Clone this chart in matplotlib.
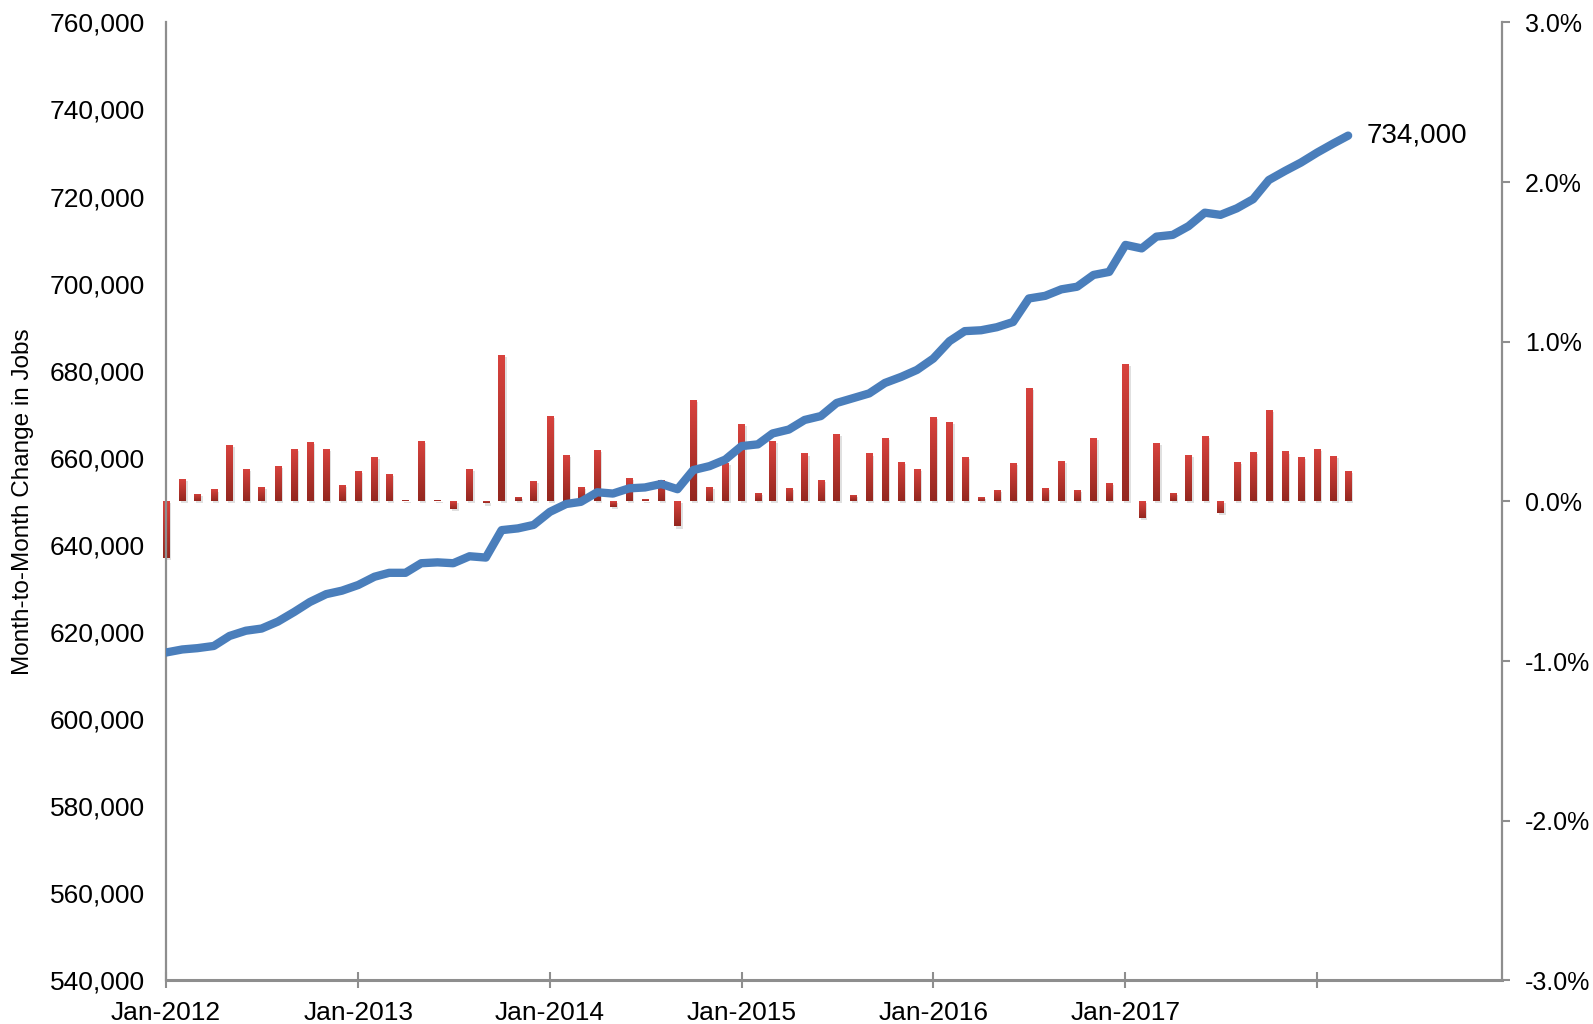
import numpy as np
import pandas as pd
import matplotlib
matplotlib.use("Agg")
import matplotlib.pyplot as plt
import matplotlib.dates as mdates
from matplotlib.ticker import FixedLocator, FixedFormatter, MultipleLocator, FuncFormatter
from matplotlib.colors import LinearSegmentedColormap
from matplotlib.transforms import ScaledTranslation

# ---------------- data ----------------
months = pd.date_range("2012-01-01", periods=75, freq="MS")

jobs = [
    615300, 616000, 616300, 616800, 619100, 620300, 620800, 622400, 624600, 626900, 628700, 629500,
    630800, 632700, 633600, 633600, 635800, 636000, 635800, 637400, 637100, 643400, 643800, 644600,
    647600, 649400, 649900, 652100, 651800, 653000, 653200, 654000, 652800, 657200, 658100, 659600,
    662700, 663100, 665600, 666500, 668700, 669600, 672600, 673700, 674800, 677200, 678600, 680200,
    682800, 686800, 689100, 689300, 690000, 691200, 696600, 697200, 698700, 699300, 702000, 702700,
    708900, 708100, 710800, 711200, 713200, 716300, 715800, 717300, 719400, 723800, 725900, 727800,
    730100, 732200, 734000,
]

pct_change = [
    -0.355, 0.140, 0.048, 0.075, 0.355, 0.205, 0.092, 0.220, 0.330, 0.370, 0.330, 0.105,
    0.190, 0.280, 0.170, 0.010, 0.376, 0.010, -0.050, 0.205, -0.013, 0.920, 0.027, 0.130,
    0.537, 0.290, 0.092, 0.320, -0.033, 0.148, 0.012, 0.132, -0.157, 0.637, 0.092, 0.238,
    0.483, 0.055, 0.378, 0.084, 0.300, 0.135, 0.420, 0.042, 0.300, 0.400, 0.248, 0.206,
    0.528, 0.498, 0.277, 0.025, 0.069, 0.242, 0.713, 0.084, 0.256, 0.069, 0.400, 0.113,
    0.858, -0.103, 0.364, 0.055, 0.292, 0.408, -0.071, 0.248, 0.307, 0.572, 0.313, 0.277,
    0.328, 0.284, 0.191,
]

tick_dates = pd.to_datetime(["2012-01-01", "2013-01-01", "2014-01-01", "2015-01-01",
                             "2016-01-01", "2017-01-01", "2018-01-01"])
tick_labels = ["Jan-2012", "Jan-2013", "Jan-2014", "Jan-2015", "Jan-2016", "Jan-2017", ""]

end_label = "734,000"
ylabel_text = "Month-to-Month Change in Jobs"

# ---------------- style ----------------
plt.rcParams["font.family"] = ["Liberation Sans", "DejaVu Sans"]
spine_color = "#8e8e8e"
line_color = "#4a7ebb"

fig = plt.figure(figsize=(15.93, 10.24), dpi=100)
ax = fig.add_axes([0.10421, 0.04258, 0.83867, 0.93555])
ax2 = ax.twinx()

# bars on the right (percent) axis
pct = np.array(pct_change) / 100.0
bar_width = 12  # days
shadow = ax2.bar(months, pct, width=bar_width, color="black", alpha=0.12, zorder=1, linewidth=0)
off = ScaledTranslation(1.5 / 72, -1.5 / 72, fig.dpi_scale_trans)
for p in shadow:
    p.set_transform(ax2.transData + off)
bars = ax2.bar(months, pct, width=bar_width, color="#c03a35", zorder=2, linewidth=0)

cmap = LinearSegmentedColormap.from_list("barg", ["#93271f", "#d9433e"])
grad = np.linspace(1, 0, 256).reshape(-1, 1)
for b in bars:
    x0, y0 = b.get_xy()
    w, h = b.get_width(), b.get_height()
    ylo, yhi = min(y0, y0 + h), max(y0, y0 + h)
    im = ax2.imshow(grad, extent=[x0, x0 + w, ylo, yhi], aspect="auto", cmap=cmap,
                    vmin=0, vmax=1, origin="upper", zorder=3, interpolation="bilinear")
    im.set_clip_path(b)

# line on the left axis, drawn above bars
ax.set_zorder(ax2.get_zorder() + 1)
ax.patch.set_visible(False)
ax.plot(months, jobs, color=line_color, lw=6, solid_capstyle="round", solid_joinstyle="round", zorder=5)
ax.annotate(end_label, xy=(months[-1], jobs[-1]), xytext=(13, 0), textcoords="offset points",
            ha="left", va="center", fontsize=20, color="black")

# limits
xmin = pd.Timestamp("2012-01-01")
xmax = pd.Timestamp("2018-12-19")
ax.set_xlim(xmin, xmax)
ax2.set_xlim(xmin, xmax)
ax.set_ylim(540000, 760000)
ax2.set_ylim(-0.03, 0.03)

# left axis
ax.yaxis.set_major_locator(MultipleLocator(20000))
ax.yaxis.set_major_formatter(FuncFormatter(lambda v, p: f"{int(round(v)):,}"))
ax.tick_params(axis="y", which="both", length=0, pad=15, labelsize=19, colors="black")
ax.set_ylabel(ylabel_text, fontsize=17.5)
ax.yaxis.set_label_coords(-0.099, 0.5)

# right axis
ax2.yaxis.set_major_locator(MultipleLocator(0.01))
ax2.yaxis.set_major_formatter(FuncFormatter(lambda v, p: f"{v*100:.1f}%".replace("\u2212", "-")))
ax2.tick_params(axis="y", direction="out", length=5.5, width=1.5, color=spine_color,
                pad=11, labelsize=18, labelcolor="black")

# x axis
ax.xaxis.set_major_locator(FixedLocator(mdates.date2num(tick_dates)))
ax.xaxis.set_major_formatter(FixedFormatter(tick_labels))
ax.tick_params(axis="x", direction="inout", length=11, width=1.5, color=spine_color,
               pad=9, labelsize=19, labelcolor="black")
for lbl in ax.get_xticklabels():
    lbl.set_fontfamily(["Liberation Sans Narrow", "Liberation Sans", "DejaVu Sans"])
ax2.tick_params(axis="x", length=0)

# spines
for a in (ax, ax2):
    a.spines["top"].set_visible(False)
    for s in ("left", "right", "bottom"):
        a.spines[s].set_color(spine_color)
        a.spines[s].set_linewidth(1.6)
ax.spines["right"].set_visible(False)
ax2.spines["left"].set_visible(False)
ax2.spines["bottom"].set_visible(False)
ax.spines["bottom"].set_linewidth(2.2)

fig.savefig("out.png", dpi=100)
